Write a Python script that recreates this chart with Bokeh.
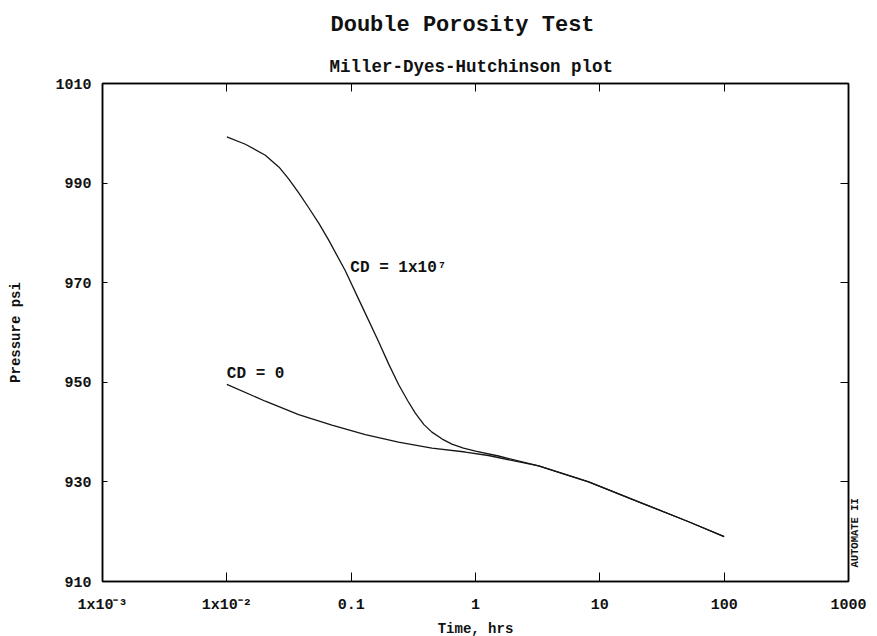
import math
from bokeh.plotting import figure
from bokeh.models import FixedTicker, LinearAxis, LogAxis, CustomJSTickFormatter, Label, Title
from bokeh.embed import file_html
from bokeh.resources import INLINE

# ---- data ----
x_ticks = [1e-3, 1e-2, 0.1, 1, 10, 100, 1000]
x_tick_labels = ["1x10\u207b\u00b3", "1x10\u207b\u00b2", "0.1", "1", "10", "100", "1000"]
y_ticks = [910, 930, 950, 970, 990, 1010]

time_cd7 = [0.01, 0.0141, 0.0204, 0.0263, 0.0313, 0.0380, 0.0454, 0.0550, 0.0658,
            0.0897, 0.122, 0.166, 0.200, 0.240, 0.285, 0.328, 0.385, 0.446,
            0.540, 0.646, 0.80, 1.0, 1.53, 3.22, 8.13, 20.5, 51.8, 100]
pres_cd7 = [999.3, 997.8, 995.6, 993.2, 990.9, 988.0, 985.1, 981.9, 978.6,
            972.4, 965.3, 958.2, 953.7, 949.6, 946.3, 943.8, 941.5, 940.0,
            938.6, 937.6, 936.8, 936.2, 935.2, 933.2, 930.0, 926.0, 922.0, 919.0]

time_cd0 = [0.01, 0.0204, 0.0378, 0.070, 0.130, 0.240, 0.446, 0.828, 1.27,
            3.22, 8.13, 20.5, 51.8, 100]
pres_cd0 = [949.6, 946.2, 943.5, 941.4, 939.5, 938.0, 936.8, 936.0, 935.3,
            933.2, 930.0, 926.0, 922.0, 919.0]

labels_text = ["CD = 1x10\u2077", "CD = 0"]
labels_x = [0.0985, 0.01]
labels_y = [972.9, 951.6]

stamp_text = "AUTOMATE II"
stamp_y = [912.8]

FONT = "Liberation Mono"
INK = "#111111"

p = figure(x_axis_type="log", x_range=(1e-3, 1e3), y_range=(910, 1010),
           frame_width=746, frame_height=498,
           min_border_left=102, min_border_right=20, min_border_top=10, min_border_bottom=40,
           output_backend="svg", toolbar_location=None,
           title="Double Porosity Test")
p.title.align = "left"
p.title.offset = 228
p.title.text_font = FONT
p.title.text_font_size = "22px"
p.title.text_font_style = "bold"
p.title.text_color = INK
p.title.standoff = 20

p.grid.visible = False
p.background_fill_color = "white"
p.border_fill_color = "white"
p.outline_line_color = "black"
p.outline_line_width = 1.5

xa = p.below[0]
ya = p.left[0]

blank = CustomJSTickFormatter(code="return '';")

# top axis (ticks only) - added first so it sits next to the frame
top = LogAxis(ticker=FixedTicker(ticks=x_ticks), formatter=blank, major_tick_in=8, major_tick_out=0,
              minor_tick_line_color=None, major_label_text_font_size="1px",
              major_label_standoff=0, axis_line_width=1.5)
p.add_layout(top, "above")

sub = Title(text="Miller-Dyes-Hutchinson plot", align="left", offset=227, text_font=FONT,
            text_font_size="17.5px", text_font_style="bold", text_color=INK,
            standoff=14)
p.add_layout(sub, "above")

xa.ticker = FixedTicker(ticks=x_ticks)
xa.formatter = CustomJSTickFormatter(args=dict(labels=x_tick_labels), code="return labels[index];")
xa.major_tick_in = 9
xa.major_tick_out = 0
xa.minor_tick_line_color = None
xa.axis_line_color = "black"
xa.axis_line_width = 1.5
xa.major_label_text_font = FONT
xa.major_label_text_font_size = "15px"
xa.major_label_text_font_style = "bold"
xa.major_label_text_color = INK
xa.major_label_standoff = 15
xa.axis_label = "Time, hrs"
xa.axis_label_text_font = FONT
xa.axis_label_text_font_size = "14px"
xa.axis_label_text_font_style = "bold"
xa.axis_label_text_color = INK
xa.axis_label_standoff = 4

ya.ticker = FixedTicker(ticks=y_ticks)
ya.major_tick_in = 5
ya.major_tick_out = 0
ya.minor_tick_line_color = None
ya.axis_line_color = "black"
ya.axis_line_width = 1.5
ya.major_label_text_font = FONT
ya.major_label_text_font_size = "15px"
ya.major_label_text_font_style = "bold"
ya.major_label_text_color = INK
ya.major_label_standoff = 11
ya.axis_label = "Pressure psi"
ya.axis_label_text_font = FONT
ya.axis_label_text_font_size = "14px"
ya.axis_label_text_font_style = "bold"
ya.axis_label_text_color = INK
ya.axis_label_standoff = 28

# right axis (ticks only)
right = LinearAxis(ticker=FixedTicker(ticks=y_ticks), formatter=blank, major_tick_in=8, major_tick_out=0,
                   minor_tick_line_color=None, major_label_text_font_size="1px",
                   major_label_standoff=0, axis_line_width=1.5)
p.add_layout(right, "right")

# small vertical stamp just outside the right edge
stamp = LinearAxis(ticker=FixedTicker(ticks=stamp_y),
                   formatter=CustomJSTickFormatter(args=dict(t=stamp_text), code="return t;"),
                   major_tick_line_color=None, minor_tick_line_color=None, axis_line_color=None,
                   major_label_orientation=math.pi / 2, major_label_standoff=1,
                   major_label_text_font=FONT, major_label_text_font_size="10.5px",
                   major_label_text_font_style="bold", major_label_text_color=INK)
p.add_layout(stamp, "right")

p.line(time_cd7, pres_cd7, line_color="#151515", line_width=1.3)
p.line(time_cd0, pres_cd0, line_color="#151515", line_width=1.3)

for t, xx, yy in zip(labels_text, labels_x, labels_y):
    p.add_layout(Label(x=xx, y=yy, text=t, text_font=FONT, text_font_size="16px",
                       text_font_style="bold", text_color=INK,
                       text_align="left", text_baseline="middle"))

open("out.html", "w").write(file_html(p, INLINE))
